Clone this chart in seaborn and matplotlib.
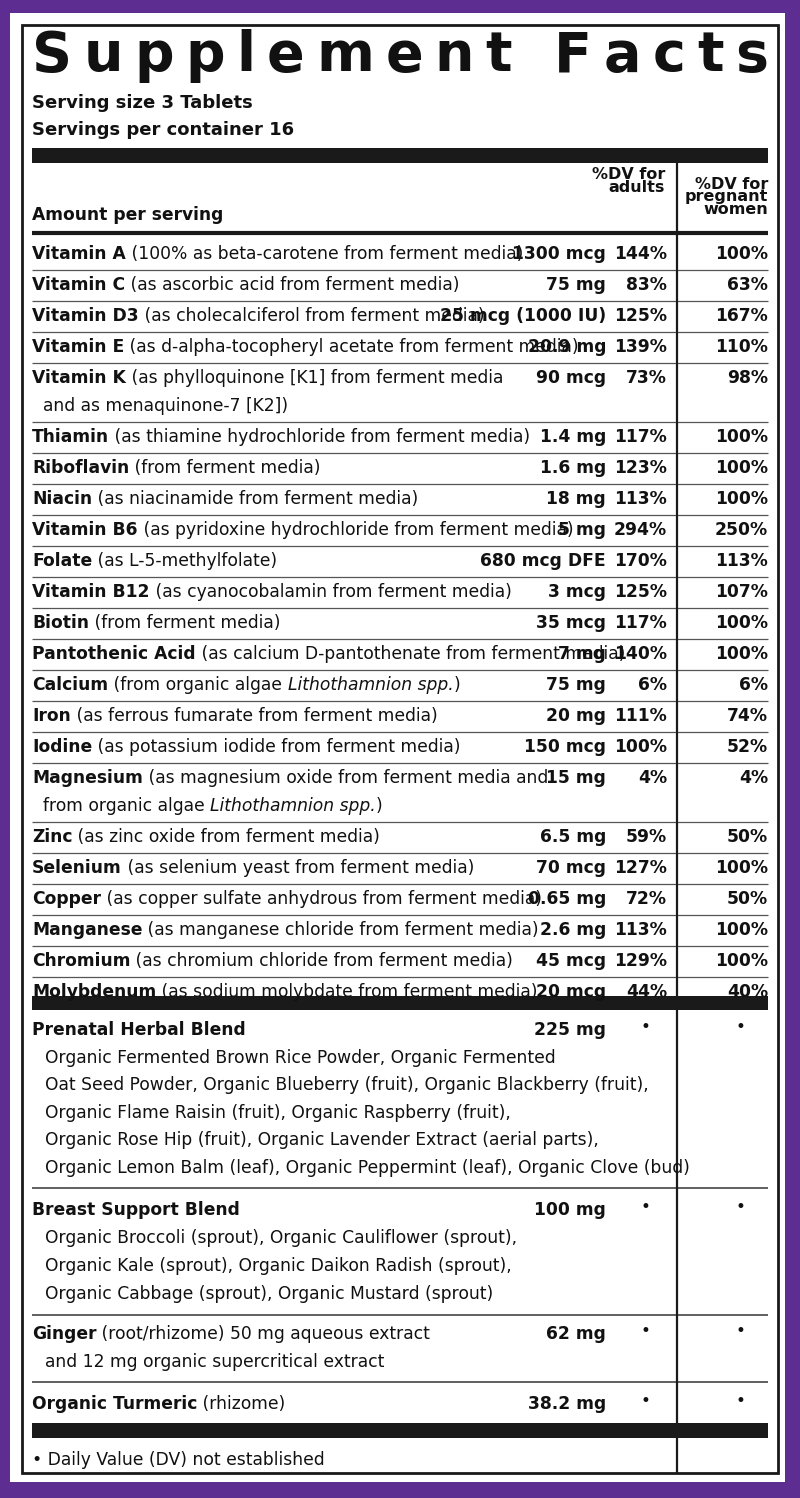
import matplotlib
matplotlib.use("Agg")
import matplotlib.pyplot as plt
import seaborn as sns
from matplotlib import font_manager

sns.set_theme(style="white")

names = ["Vitamin A", "Vitamin C", "Vitamin D3", "Vitamin E", "Vitamin K", "Thiamin", "Riboflavin",
         "Niacin", "Vitamin B6", "Folate", "Vitamin B12", "Biotin", "Pantothenic Acid", "Calcium",
         "Iron", "Iodine", "Magnesium", "Zinc", "Selenium", "Copper", "Manganese", "Chromium", "Molybdenum"]
descs = [
    [[" (100% as beta-carotene from ferment media)"]],
    [[" (as ascorbic acid from ferment media)"]],
    [[" (as cholecalciferol from ferment media)"]],
    [[" (as d-alpha-tocopheryl acetate from ferment media)"]],
    [[" (as phylloquinone [K1] from ferment media"], ["  and as menaquinone-7 [K2])"]],
    [[" (as thiamine hydrochloride from ferment media)"]],
    [[" (from ferment media)"]],
    [[" (as niacinamide from ferment media)"]],
    [[" (as pyridoxine hydrochloride from ferment media)"]],
    [[" (as L-5-methylfolate)"]],
    [[" (as cyanocobalamin from ferment media)"]],
    [[" (from ferment media)"]],
    [[" (as calcium D-pantothenate from ferment media)"]],
    [[" (from organic algae ", "i:Lithothamnion spp.", ")"]],
    [[" (as ferrous fumarate from ferment media)"]],
    [[" (as potassium iodide from ferment media)"]],
    [[" (as magnesium oxide from ferment media and"], ["  from organic algae ", "i:Lithothamnion spp.", ")"]],
    [[" (as zinc oxide from ferment media)"]],
    [[" (as selenium yeast from ferment media)"]],
    [[" (as copper sulfate anhydrous from ferment media)"]],
    [[" (as manganese chloride from ferment media)"]],
    [[" (as chromium chloride from ferment media)"]],
    [[" (as sodium molybdate from ferment media)"]],
]
amounts = ["1300 mcg", "75 mg", "25 mcg (1000 IU)", "20.9 mg", "90 mcg", "1.4 mg", "1.6 mg", "18 mg", "5 mg",
           "680 mcg DFE", "3 mcg", "35 mcg", "7 mg", "75 mg", "20 mg", "150 mcg", "15 mg", "6.5 mg", "70 mcg",
           "0.65 mg", "2.6 mg", "45 mcg", "20 mcg"]
dv_adults = ["144%", "83%", "125%", "139%", "73%", "117%", "123%", "113%", "294%", "170%", "125%", "117%",
             "140%", "6%", "111%", "100%", "4%", "59%", "127%", "72%", "113%", "129%", "44%"]
dv_preg = ["100%", "63%", "167%", "110%", "98%", "100%", "100%", "100%", "250%", "113%", "107%", "100%",
           "100%", "6%", "74%", "52%", "4%", "50%", "100%", "50%", "100%", "100%", "40%"]

blend_names = ["Prenatal Herbal Blend", "Breast Support Blend", "Ginger", "Organic Turmeric"]
blend_first = ["", "", " (root/rhizome) 50 mg aqueous extract", " (rhizome)"]
blend_amounts = ["225 mg", "100 mg", "62 mg", "38.2 mg"]
blend_lines = [
    ["Organic Fermented Brown Rice Powder, Organic Fermented",
     "Oat Seed Powder, Organic Blueberry (fruit), Organic Blackberry (fruit),",
     "Organic Flame Raisin (fruit), Organic Raspberry (fruit),",
     "Organic Rose Hip (fruit), Organic Lavender Extract (aerial parts),",
     "Organic Lemon Balm (leaf), Organic Peppermint (leaf), Organic Clove (bud)"],
    ["Organic Broccoli (sprout), Organic Cauliflower (sprout),",
     "Organic Kale (sprout), Organic Daikon Radish (sprout),",
     "Organic Cabbage (sprout), Organic Mustard (sprout)"],
    ["and 12 mg organic supercritical extract"],
    [],
]

avail = {f.name for f in font_manager.fontManager.ttflist}
FAM = "Liberation Sans Narrow" if "Liberation Sans Narrow" in avail else "DejaVu Sans"
FS = 12.3

fig = plt.figure(figsize=(8, 14.98), dpi=100)
ax = fig.add_axes([0, 0, 1, 1])
ax.set_xlim(0, 800); ax.set_ylim(1498, 0); ax.axis("off")
PURPLE = "#5e2d91"
fig.patch.set_facecolor(PURPLE)
ax.add_patch(plt.Rectangle((10, 13), 775, 1469, facecolor="white", edgecolor="none"))
ax.add_patch(plt.Rectangle((22, 25), 756, 1448, facecolor="white", edgecolor="#1a1a1a", lw=2))
renderer = fig.canvas.get_renderer()
inv = ax.transData.inverted()

def width_of(t):
    bb = t.get_window_extent(renderer)
    p0 = inv.transform((bb.x0, bb.y0)); p1 = inv.transform((bb.x1, bb.y0))
    return p1[0] - p0[0]

def segs(x, y, parts, fs=FS):
    for txt, w, st in parts:
        t = ax.text(x, y, txt, fontfamily=FAM, fontsize=fs, fontweight=w, fontstyle=st,
                    va="center", ha="left", color="#111")
        x += width_of(t)

def rtext(x, y, s, w="bold", fs=FS):
    ax.text(x, y, s, fontfamily=FAM, fontsize=fs, fontweight=w, va="center", ha="right", color="#111")

def hline(y, lw=1, c="#555", x0=32, x1=768):
    ax.plot([x0, x1], [y, y], color=c, lw=lw, solid_capstyle="butt")

# Title with letter spacing
title = "Supplement Facts"
ts = []
for ch in title:
    ts.append(ax.text(0, 56, ch, fontfamily="DejaVu Sans", fontsize=40, fontweight="bold", va="center", ha="left", color="#111"))
ws = [width_of(t) for t in ts]
gap = (768 - 32 - sum(ws)) / (len(ws) - 1)
x = 32
for t, w in zip(ts, ws):
    t.set_x(x); x += w + gap

segs(32, 103, [("Serving size 3 Tablets", "bold", "normal")], fs=13)
segs(32, 130, [("Servings per container 16", "bold", "normal")], fs=13)
ax.add_patch(plt.Rectangle((32, 148), 736, 15, color="#1a1a1a", lw=0))
ax.text(665, 181, "%DV for\nadults", fontfamily=FAM, fontsize=11.5, fontweight="bold", ha="right", va="center", linespacing=0.85, color="#111")
ax.text(768, 197, "%DV for\npregnant\nwomen", fontfamily=FAM, fontsize=11.5, fontweight="bold", ha="right", va="center", linespacing=0.8, color="#111")
segs(32, 215, [("Amount per serving", "bold", "normal")])
hline(233, lw=3, c="#1a1a1a")

y = 254
for i, n in enumerate(names):
    lines = descs[i]
    def conv(parts):
        out = []
        for p in parts:
            if p.startswith("i:"):
                out.append((p[2:], "normal", "italic"))
            else:
                out.append((p, "normal", "normal"))
        return out
    segs(32, y, [(n, "bold", "normal")] + conv(lines[0]))
    rtext(606, y, amounts[i]); rtext(667, y, dv_adults[i]); rtext(768, y, dv_preg[i])
    for j, extra in enumerate(lines[1:]):
        segs(32, y + 28 * (j + 1), conv(extra))
    yb = y + 28 * (len(lines) - 1) + 15.5
    if i < len(names) - 1:
        hline(yb, lw=0.9)
    y = yb + 15.5
ax.add_patch(plt.Rectangle((32, 996), 736, 14, color="#1a1a1a", lw=0))

starts = [1030, 1210, 1334, 1404]
ends = [1188, 1315, 1382, 1428]
for k in range(4):
    yy = starts[k]
    segs(32, yy, [(blend_names[k], "bold", "normal"), (blend_first[k], "normal", "normal")])
    rtext(606, yy, blend_amounts[k])
    ax.text(645, yy - 3, "•", fontsize=12, ha="center", va="center", color="#111")
    ax.text(740, yy - 3, "•", fontsize=12, ha="center", va="center", color="#111")
    step = 27.6 if k == 0 else 28
    for j, l in enumerate(blend_lines[k]):
        segs(45 if k != 2 else 45, yy + step * (j + 1), [(l, "normal", "normal")])
    if k < 3:
        hline(ends[k], lw=1.2, c="#444")
ax.add_patch(plt.Rectangle((32, 1423), 736, 15, color="#1a1a1a", lw=0))
segs(32, 1460, [("• Daily Value (DV) not established", "normal", "normal")])
ax.plot([677, 677], [163, 1473], color="#1a1a1a", lw=1.6)

fig.savefig("out.png", dpi=100, facecolor=PURPLE)
